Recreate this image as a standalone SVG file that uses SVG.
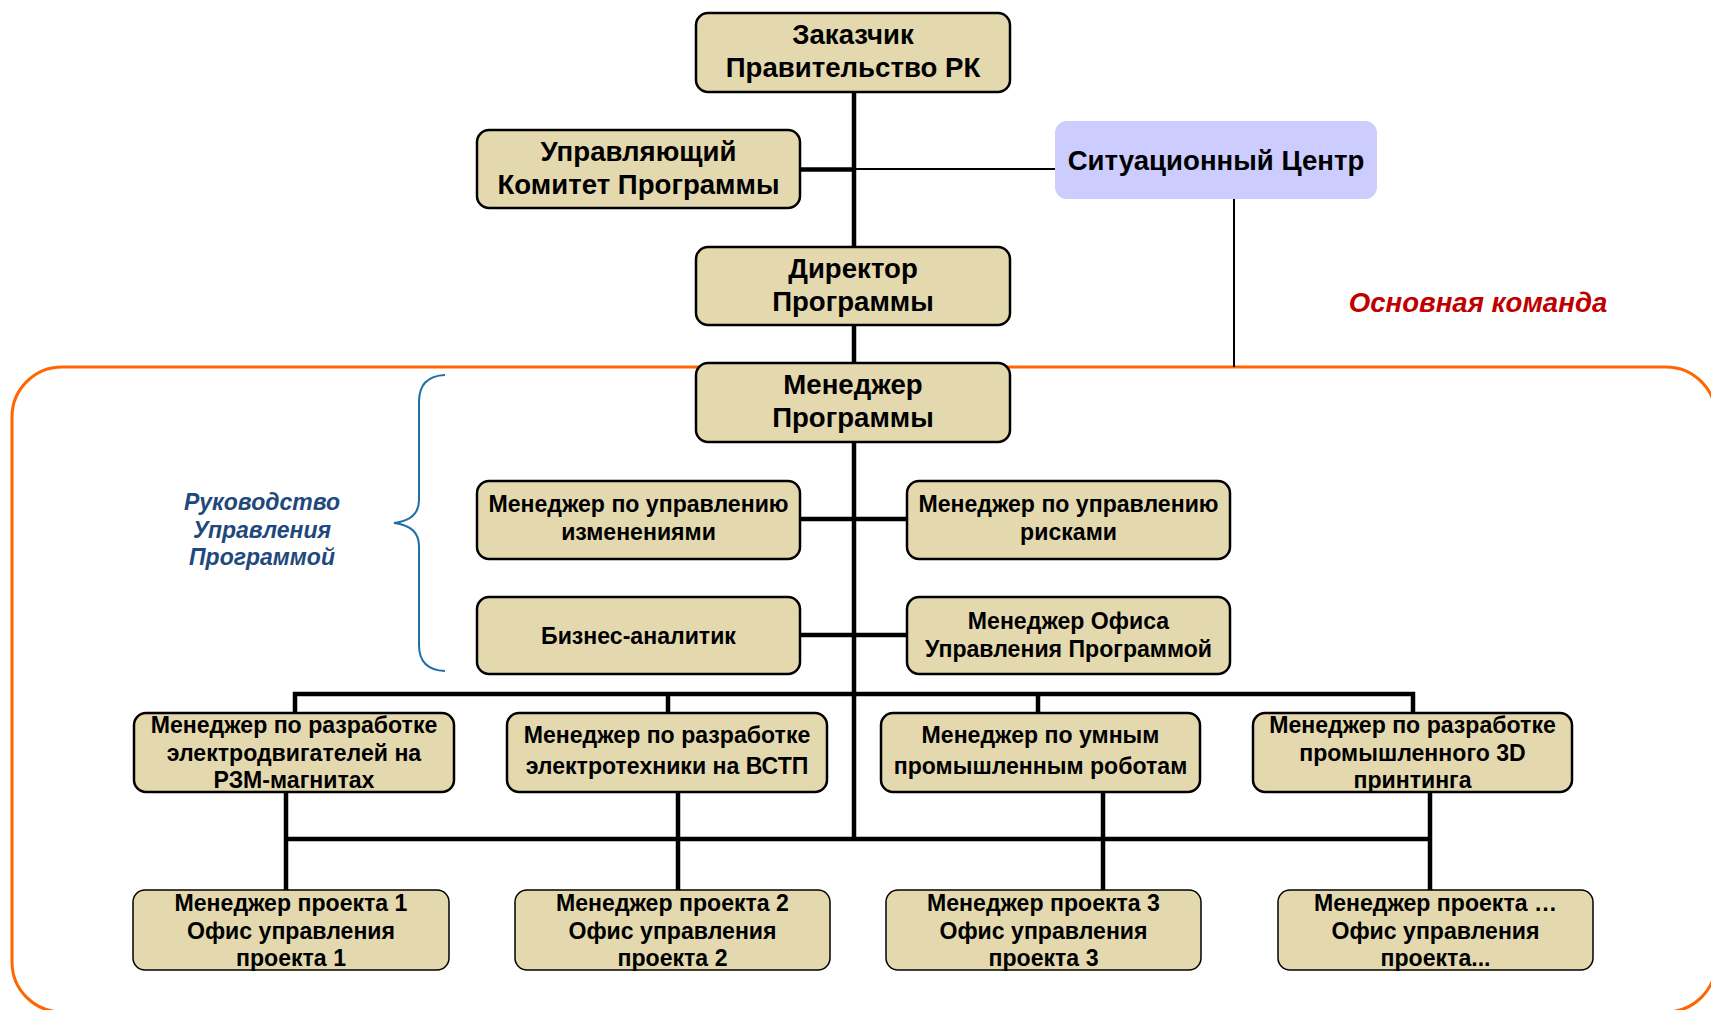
<svg xmlns="http://www.w3.org/2000/svg" width="1711" height="1010" viewBox="0 0 1711 1010">
  <style>
    .box { fill: #E4D9AE; stroke: #000; stroke-width: 2.5; }
    .box-thin { fill: #E4D9AE; stroke: #000; stroke-width: 1.5; }
    .sc { fill: #CCCCFF; stroke: none; }
    .t { font-family: "Liberation Sans", Arial, sans-serif; font-weight: bold; fill: #000; text-anchor: middle; }
    .big { font-size: 27.6px; }
    .mid { font-size: 23.1px; }
    .link { stroke: #000; stroke-width: 4.5; fill: none; }
    .link-thin { stroke: #000; stroke-width: 2; fill: none; }
    .team { fill: none; stroke: #FF6600; stroke-width: 3; }
    .team-label { font-family: "Liberation Sans", Arial, sans-serif; font-weight: bold; font-style: italic; font-size: 27.6px; fill: #C00000; text-anchor: middle; }
    .gov-label { font-family: "Liberation Sans", Arial, sans-serif; font-weight: bold; font-style: italic; font-size: 23px; fill: #1F497D; text-anchor: middle; }
    .brace { fill: none; stroke: #2070A8; stroke-width: 2; }
  </style>

  <rect width="1711" height="1010" fill="#FFFFFF"/>

  <!-- core team frame -->
  <rect class="team" x="12" y="367" width="1704" height="645" rx="50" ry="50"/>
  <text class="team-label" x="1478" y="312">Основная команда</text>

  <!-- programme governance brace -->
  <path class="brace" d="M445,375 Q419,376 419,402 L419,500 Q419,520 394,523 Q419,526 419,546 L419,645 Q419,670 445,671"/>
  <text class="gov-label" x="262" y="510">Руководство</text>
  <text class="gov-label" x="262" y="537.5">Управления</text>
  <text class="gov-label" x="262" y="565">Программой</text>

  <g id="connectors">
    <line class="link" x1="854" y1="92" x2="854" y2="839"/>
    <line class="link" x1="800" y1="169.5" x2="854" y2="169.5"/>
    <line class="link-thin" x1="854" y1="169" x2="1055" y2="169"/>
    <line class="link-thin" x1="1234" y1="199" x2="1234" y2="367"/>
    <line class="link" x1="800" y1="519" x2="907" y2="519"/>
    <line class="link" x1="800" y1="635" x2="907" y2="635"/>
    <!-- bus to development managers -->
    <polyline class="link" points="295,713 295,694 1413,694 1413,713"/>
    <line class="link" x1="668" y1="694" x2="668" y2="713"/>
    <line class="link" x1="1038" y1="694" x2="1038" y2="713"/>
    <!-- bus to project managers -->
    <line class="link" x1="286" y1="839" x2="1430" y2="839"/>
    <line class="link" x1="286" y1="792" x2="286" y2="890"/>
    <line class="link" x1="678" y1="792" x2="678" y2="890"/>
    <line class="link" x1="1103" y1="792" x2="1103" y2="890"/>
    <line class="link" x1="1430" y1="792" x2="1430" y2="890"/>
  </g>

  <g id="customer">
    <rect class="box" x="696" y="13" width="314" height="79" rx="12"/>
    <text class="t big" x="853" y="44">Заказчик</text>
    <text class="t big" x="853" y="77">Правительство РК</text>
  </g>

  <g id="steering-committee">
    <rect class="box" x="477" y="130" width="323" height="78" rx="12"/>
    <text class="t big" x="638.5" y="161">Управляющий</text>
    <text class="t big" x="638.5" y="194">Комитет Программы</text>
  </g>

  <g id="situation-center">
    <rect class="sc" x="1055" y="121" width="322" height="78" rx="12"/>
    <text class="t big" x="1216" y="170">Ситуационный Центр</text>
  </g>

  <g id="programme-director">
    <rect class="box" x="696" y="247" width="314" height="78" rx="12"/>
    <text class="t big" x="853" y="278">Директор</text>
    <text class="t big" x="853" y="311">Программы</text>
  </g>

  <g id="programme-manager">
    <rect class="box" x="696" y="363" width="314" height="79" rx="12"/>
    <text class="t big" x="853" y="394">Менеджер</text>
    <text class="t big" x="853" y="427">Программы</text>
  </g>

  <g id="change-manager">
    <rect class="box" x="477" y="481" width="323" height="78" rx="12"/>
    <text class="t mid" x="638.5" y="512">Менеджер по управлению</text>
    <text class="t mid" x="638.5" y="540">изменениями</text>
  </g>

  <g id="risk-manager">
    <rect class="box" x="907" y="481" width="323" height="78" rx="12"/>
    <text class="t mid" x="1068.5" y="512">Менеджер по управлению</text>
    <text class="t mid" x="1068.5" y="540">рисками</text>
  </g>

  <g id="business-analyst">
    <rect class="box" x="477" y="597" width="323" height="77" rx="12"/>
    <text class="t mid" x="638.5" y="643.5">Бизнес-аналитик</text>
  </g>

  <g id="pmo-manager">
    <rect class="box" x="907" y="597" width="323" height="77" rx="12"/>
    <text class="t mid" x="1068.5" y="629">Менеджер Офиса</text>
    <text class="t mid" x="1068.5" y="657">Управления Программой</text>
  </g>

  <g id="motors-manager">
    <rect class="box" x="134" y="713" width="320" height="79" rx="12"/>
    <text class="t mid" x="294" y="733">Менеджер по разработке</text>
    <text class="t mid" x="294" y="760.5">электродвигателей на</text>
    <text class="t mid" x="294" y="788">РЗМ-магнитах</text>
  </g>

  <g id="electrical-manager">
    <rect class="box" x="507" y="713" width="320" height="79" rx="12"/>
    <text class="t mid" x="667" y="742.5">Менеджер по разработке</text>
    <text class="t mid" x="667" y="774">электротехники на ВСТП</text>
  </g>

  <g id="robots-manager">
    <rect class="box" x="881" y="713" width="319" height="79" rx="12"/>
    <text class="t mid" x="1040.5" y="742.5">Менеджер по умным</text>
    <text class="t mid" x="1040.5" y="774">промышленным роботам</text>
  </g>

  <g id="printing-manager">
    <rect class="box" x="1253" y="713" width="319" height="79" rx="12"/>
    <text class="t mid" x="1412.5" y="733">Менеджер по разработке</text>
    <text class="t mid" x="1412.5" y="760.5">промышленного 3D</text>
    <text class="t mid" x="1412.5" y="788">принтинга</text>
  </g>

  <g id="project-1">
    <rect class="box-thin" x="133" y="890" width="316" height="80" rx="12"/>
    <text class="t mid" x="291" y="911">Менеджер проекта 1</text>
    <text class="t mid" x="291" y="938.5">Офис управления</text>
    <text class="t mid" x="291" y="966">проекта 1</text>
  </g>

  <g id="project-2">
    <rect class="box-thin" x="515" y="890" width="315" height="80" rx="12"/>
    <text class="t mid" x="672.5" y="911">Менеджер проекта 2</text>
    <text class="t mid" x="672.5" y="938.5">Офис управления</text>
    <text class="t mid" x="672.5" y="966">проекта 2</text>
  </g>

  <g id="project-3">
    <rect class="box-thin" x="886" y="890" width="315" height="80" rx="12"/>
    <text class="t mid" x="1043.5" y="911">Менеджер проекта 3</text>
    <text class="t mid" x="1043.5" y="938.5">Офис управления</text>
    <text class="t mid" x="1043.5" y="966">проекта 3</text>
  </g>

  <g id="project-n">
    <rect class="box-thin" x="1278" y="890" width="315" height="80" rx="12"/>
    <text class="t mid" x="1435.5" y="911">Менеджер проекта …</text>
    <text class="t mid" x="1435.5" y="938.5">Офис управления</text>
    <text class="t mid" x="1435.5" y="966">проекта...</text>
  </g>
</svg>
